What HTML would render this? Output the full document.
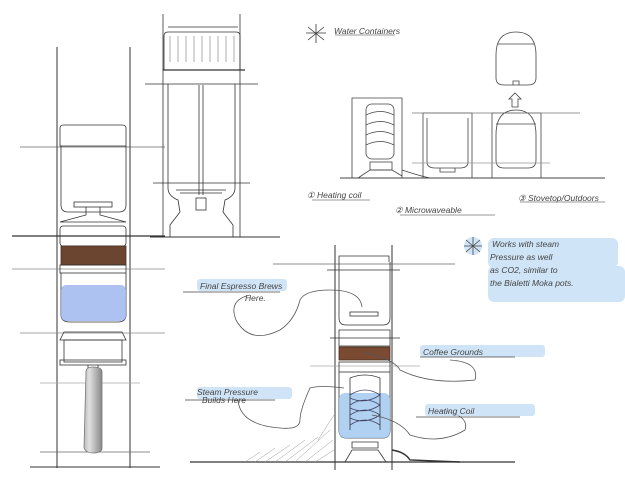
<!DOCTYPE html>
<html><head><meta charset="utf-8"><style>
html,body{margin:0;padding:0;background:#fff;width:625px;height:500px;overflow:hidden}
svg text{font-family:"Liberation Sans",sans-serif;font-style:italic;fill:#444}
</style></head><body>
<svg width="625" height="500" viewBox="0 0 625 500" xmlns="http://www.w3.org/2000/svg">
<defs>
<linearGradient id="bt" x1="0" x2="1"><stop offset="0" stop-color="#bbb"/><stop offset=".3" stop-color="#e0e0e0"/><stop offset="1" stop-color="#888"/></linearGradient>
</defs>
<g fill="none" stroke="#333" stroke-width="0.8">
<!-- LEFT COLUMN -->
<line x1="57" y1="47" x2="57" y2="468" stroke-width="1"/>
<line x1="130" y1="47" x2="130" y2="468" stroke-width="1"/>
<line x1="20" y1="147" x2="165" y2="147" stroke="#666"/>
<line x1="12" y1="236" x2="165" y2="236" stroke-width="1.2"/>
<line x1="12" y1="269" x2="165" y2="269" stroke="#888"/>
<line x1="20" y1="333" x2="165" y2="333" stroke="#888"/>
<line x1="40" y1="383" x2="140" y2="383" stroke="#aaa"/>
<line x1="40" y1="452" x2="150" y2="452" stroke="#666"/>
<line x1="30" y1="467" x2="160" y2="467" stroke-width="1"/>
<path d="M60 146 L60 128 Q60 125 64 125 L122 125 Q126 125 126 128 L126 146 Z"/>
<path d="M61 146 L61 205 Q61 212 68 212 L119 212 Q126 212 126 205 L126 146"/>
<rect x="74" y="202" width="38" height="5"/>
<path d="M86 207 L86 215 L60 222 L126 222 L100 215 L100 207"/>
<rect x="60" y="226" width="66" height="20" rx="3"/>
<rect x="61" y="246" width="65" height="19" fill="#6b4530" stroke="#4a2f20"/>
<rect x="60" y="265" width="66" height="8"/>
<path d="M61 273 L61 315 Q61 322 70 322 L118 322 Q126 322 126 315 L126 273"/>
<rect x="61" y="285" width="65" height="36" rx="5" fill="#9fb7ef" stroke="none" opacity=".85"/>
<path d="M60 340 L126 340 L122 332 L64 332 Z"/>
<rect x="64" y="340" width="58" height="22"/>
<rect x="60" y="360" width="66" height="5"/>
<path d="M88 365 L88 370 L98 370 L98 365"/>
<path d="M86 372 Q86 367 93 367 Q102 367 102 372 L102 448 Q102 453 93 453 Q86 453 84 448 Z" fill="url(#bt)" stroke="#777"/>
<!-- MIDDLE COLUMN -->
<line x1="163" y1="14" x2="163" y2="237"/>
<line x1="240" y1="14" x2="240" y2="237"/>
<line x1="168" y1="27" x2="238" y2="27"/>
<path d="M164 70 L164 36 Q164 32 168 32 L236 32 Q240 32 240 36 L240 70 Z"/>
<g stroke="#999"><line x1="170" y1="36" x2="170" y2="62"/><line x1="178" y1="36" x2="178" y2="62"/><line x1="186" y1="36" x2="186" y2="62"/><line x1="194" y1="36" x2="194" y2="62"/><line x1="202" y1="36" x2="202" y2="62"/><line x1="210" y1="36" x2="210" y2="62"/><line x1="218" y1="36" x2="218" y2="62"/><line x1="226" y1="36" x2="226" y2="62"/><line x1="234" y1="36" x2="234" y2="62"/></g>
<line x1="163" y1="70" x2="245" y2="70" stroke-width="1.2"/>
<line x1="145" y1="84" x2="258" y2="84"/>
<line x1="153" y1="183" x2="250" y2="183"/>
<line x1="199" y1="85" x2="199" y2="195"/><line x1="203" y1="85" x2="203" y2="195"/>
<path d="M176 190 L226 190 M180 193 L222 193"/>
<rect x="196" y="198" width="10" height="12"/>
<path d="M168 84 L168 188 Q168 196 178 200 L180 212 L170 225 L170 237 M235 84 L235 188 Q235 196 225 200 L223 212 L233 225 L233 237"/>
<line x1="150" y1="237" x2="280" y2="237" stroke-width="1"/>
<!-- TOP-RIGHT containers -->
<g stroke="#444">
<path d="M352 178 L352 98 L402 98 L402 178"/>
<rect x="366" y="104" width="28" height="55" rx="6"/>
<path d="M366 115 Q380 108 394 115 M366 125 Q380 118 394 125 M366 135 Q380 128 394 135 M366 145 Q380 138 394 145"/>
<rect x="370" y="162" width="22" height="8"/>
<path d="M358 178 L370 170 L392 170 L402 176"/>
<path d="M402 170 Q420 176 430 178"/>
<path d="M423 178 L423 113 L472 113 L472 178"/>
<path d="M427 118 L427 162 Q427 168 435 168 L460 168 Q468 168 468 162 L468 118"/>
<path d="M440 168 L440 172 L455 172 L455 168"/>
<path d="M492 178 L492 113 L541 113 L541 178"/>
<path d="M496 135 Q496 110 516 110 Q536 110 536 135 L536 160 Q536 168 528 168 L504 168 Q496 168 496 160 Z"/>
<line x1="496" y1="124" x2="536" y2="124"/>
<path d="M496 55 Q496 32 516 32 Q536 32 536 55 L536 78 Q536 85 528 85 L504 85 Q496 85 496 78 Z"/>
<line x1="497" y1="44" x2="535" y2="44"/>
<path d="M513 85 L513 81 L519 81 L519 85"/>
<path d="M512 107 L512 99 L509 99 L515 93 L521 99 L518 99 L518 107 Z"/>
<line x1="340" y1="178" x2="605" y2="178" stroke-width="1"/>
<line x1="412" y1="113" x2="580" y2="113" stroke="#777"/>
<line x1="412" y1="163" x2="550" y2="163" stroke="#999"/>
</g>
<line x1="308" y1="27" x2="324" y2="40"/><line x1="324" y1="27" x2="308" y2="40"/><line x1="316" y1="24" x2="316" y2="43"/><line x1="306" y1="33" x2="326" y2="33"/>
<line x1="335" y1="35" x2="395" y2="35" stroke="#777"/>
<line x1="312" y1="200" x2="370" y2="200" stroke="#777"/>
<line x1="400" y1="215" x2="495" y2="215" stroke="#777"/>
<line x1="520" y1="202" x2="605" y2="202" stroke="#777"/>
<!-- BOTTOM-RIGHT device -->
<line x1="335" y1="245" x2="335" y2="470" stroke-width="1"/>
<line x1="392" y1="245" x2="392" y2="470" stroke-width="1"/>
<line x1="273" y1="264" x2="455" y2="264" stroke="#666"/>
<line x1="327" y1="270" x2="400" y2="270"/>
<line x1="330" y1="338" x2="400" y2="338"/>
<line x1="310" y1="366" x2="420" y2="366" stroke="#aaa"/>
<path d="M339 262 L339 256 L389 256 L389 262"/>
<path d="M339 262 L339 318 Q339 325 346 325 L383 325 Q390 325 390 318 L390 262"/>
<rect x="350" y="312" width="28" height="4"/>
<path d="M339 330 L390 330 L390 346 L339 346 Z"/>
<rect x="339" y="347" width="51" height="13" fill="#7a4a33" stroke="#4a2f20"/>
<rect x="339" y="362" width="51" height="10"/>
<path d="M339 372 L339 430 Q339 438 346 438 L383 438 Q390 438 390 430 L390 372"/>
<rect x="339" y="393" width="51" height="45" rx="6" fill="#a7ccf0" stroke="none" opacity=".9"/>
<path d="M350 378 L350 430 M380 378 L380 430 M350 378 Q365 372 380 378"/>
<path d="M350 395 Q365 385 380 395 Q365 405 350 398 M350 405 Q365 395 380 405 Q365 415 350 408 M350 415 Q365 405 380 415 Q365 425 350 418 M350 425 Q365 415 380 425" stroke="#446"/>
<path d="M352 442 L378 442 L378 448 L352 448 Z M345 462 L352 450 L378 450 L386 462"/>
<line x1="190" y1="462" x2="515" y2="462" stroke-width="1.2"/>
<path d="M392 450 Q405 452 410 460 L460 462" stroke-width="1.4"/>
<!-- leader curves -->
<path d="M362 307 Q360 290 330 290 Q305 290 300 300 Q295 320 280 330 Q250 345 236 320 Q228 300 250 295" stroke="#555"/>
<path d="M365 352 Q395 360 400 370 Q430 385 475 380 Q480 362 450 360" stroke="#555"/>
<path d="M372 415 Q400 420 410 435 Q440 445 465 430 Q470 415 440 410" stroke="#555"/>
<path d="M344 388 Q320 385 310 388 Q300 410 300 420 Q300 430 280 428 Q240 425 238 400" stroke="#555"/>
</g>
<!-- hatch -->
<g stroke="#999" stroke-width="0.5">
<path d="M245 462 L260 452 M255 462 L275 448 M265 462 L290 445 M275 462 L305 440 M285 462 L318 437 M295 462 L330 430 M305 462 L333 440 M315 462 L334 450 M318 440 L334 415"/>
</g>
<!-- highlights -->
<g fill="#bcd9f3" opacity=".7">
<rect x="197" y="279" width="90" height="12" rx="3"/>
<rect x="197" y="387" width="95" height="12" rx="3"/>
<rect x="420" y="345" width="125" height="12" rx="3"/>
<rect x="425" y="404" width="110" height="12" rx="3"/>
<rect x="488" y="238" width="130" height="30" rx="6"/>
<rect x="488" y="266" width="137" height="36" rx="6"/>
<circle cx="473" cy="246" r="9"/>
</g>
<g stroke="#444" stroke-width="0.8">
<line x1="183" y1="292" x2="280" y2="292"/><line x1="185" y1="400" x2="275" y2="400"/>
<line x1="420" y1="357" x2="515" y2="357"/><line x1="416" y1="417" x2="520" y2="417"/>
<line x1="466" y1="240" x2="480" y2="252"/><line x1="480" y1="240" x2="466" y2="252"/><line x1="473" y1="237" x2="473" y2="255"/><line x1="464" y1="246" x2="482" y2="246"/>
</g>
<g font-size="8.5">
<text x="334" y="34">Water Containers</text>
<text x="307" y="198">① Heating coil</text>
<text x="395" y="213">② Microwaveable</text>
<text x="518" y="201">③ Stovetop/Outdoors</text>
<text x="200" y="289">Final Espresso Brews</text>
<text x="245" y="301">Here.</text>
<text x="197" y="395">Steam Pressure</text>
<text x="202" y="403">Builds Here</text>
<text x="423" y="355">Coffee Grounds</text>
<text x="428" y="414">Heating Coil</text>
<text x="492" y="247">Works with steam</text>
<text x="490" y="260">Pressure as well</text>
<text x="490" y="273">as CO2, similar to</text>
<text x="490" y="286">the Bialetti Moka pots.</text>
</g>
</svg>
</body></html>
